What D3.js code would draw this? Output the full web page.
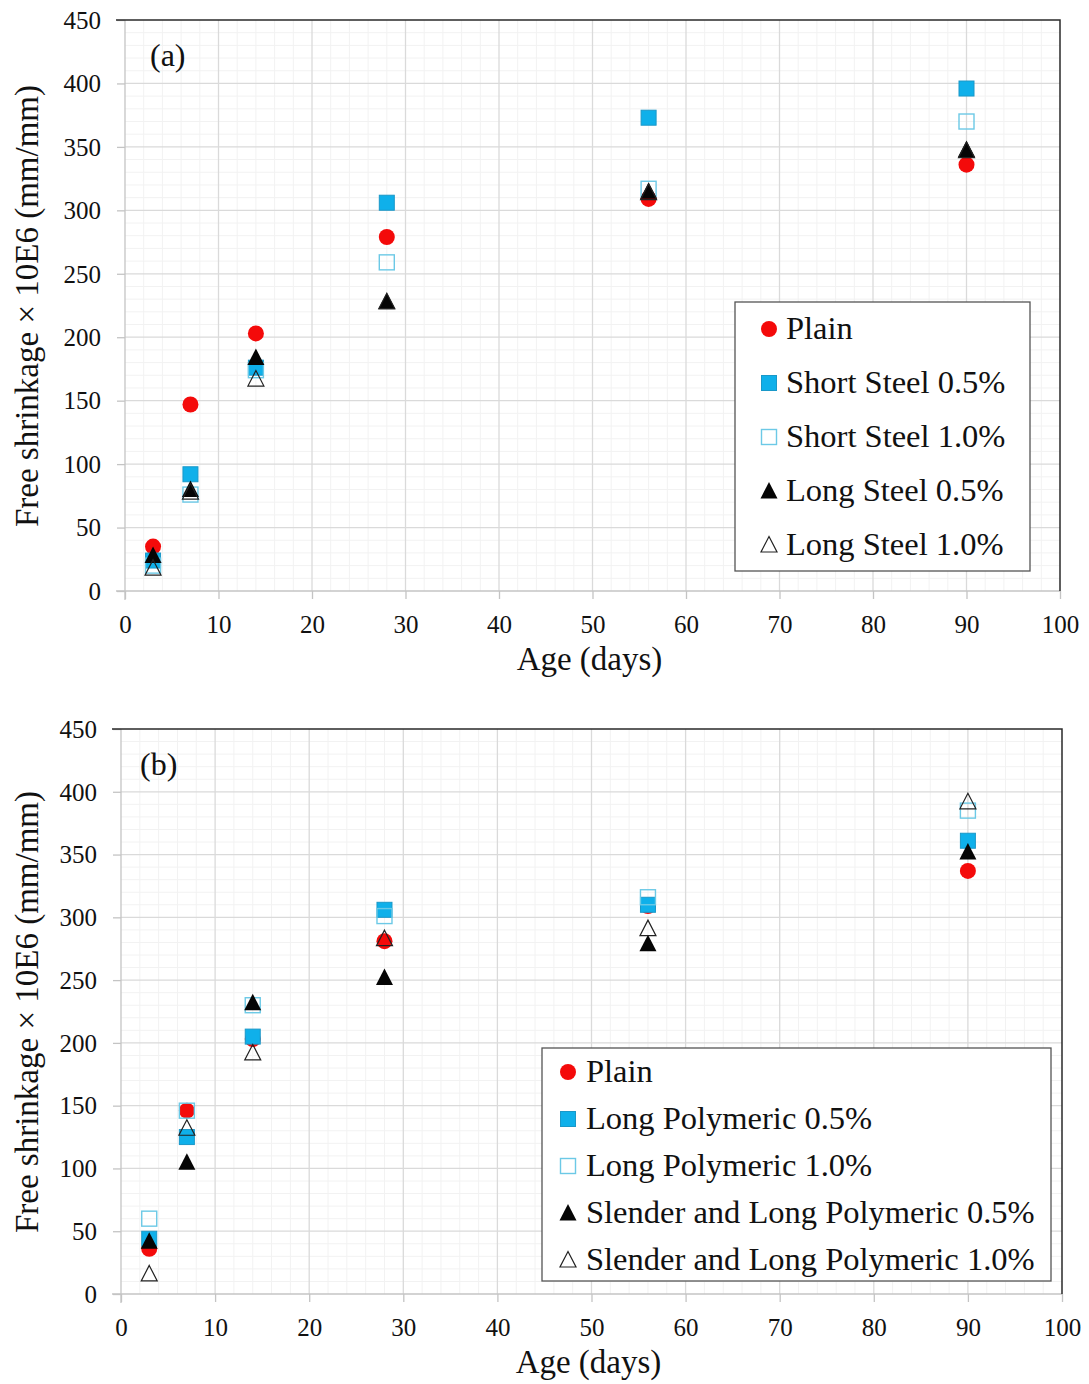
<!DOCTYPE html>
<html><head><meta charset="utf-8">
<script src="https://cdn.jsdelivr.net/npm/d3@7"></script>
<style>
body{margin:0;background:#fff;}
svg{display:block;}
text{font-family:"Liberation Serif","Times New Roman",serif;fill:#111;}
</style>
</head><body>
<svg id="chart" width="1089" height="1384"></svg>
<script>
// Shared axes
const ages = [3, 7, 14, 28, 56, 90];
const xTicks = [0, 10, 20, 30, 40, 50, 60, 70, 80, 90, 100];
const yTicks = [0, 50, 100, 150, 200, 250, 300, 350, 400, 450];

// Panel (a): steel fibres
const seriesA = ["Plain", "Short Steel 0.5%", "Short Steel 1.0%", "Long Steel 0.5%", "Long Steel 1.0%"];
const plainA = [35, 147, 203, 279, 309, 336];
const shortSteel05 = [24, 92, 176, 306, 373, 396];
const shortSteel10 = [20, 76, 174, 259, 317, 370];
const longSteel05 = [28, 80, 184, 228, 315, 348];
const longSteel10 = [18, 78, 167, 228, 314, 347];

// Panel (b): polymeric fibres
const seriesB = ["Plain", "Long Polymeric 0.5%", "Long Polymeric 1.0%", "Slender and Long Polymeric 0.5%", "Slender and Long Polymeric 1.0%"];
const plainB = [36, 146, 203, 281, 309, 337];
const longPoly05 = [44, 125, 205, 306, 310, 361];
const longPoly10 = [60, 146, 230, 301, 316, 385];
const slenderPoly05 = [42, 105, 232, 252, 279, 352];
const slenderPoly10 = [16, 132, 192, 283, 291, 392];

const markerKinds = ["circle", "squareFilled", "squareOpen", "triFilled", "triOpen"];
const RED = "#f40a0a", BLUE = "#0fb0ea", BLUE_EDGE = "#1a98c8", OPEN_BLUE = "#6cc9e6";

const svg = d3.select("#chart");

function drawMarker(g, kind, x, y) {
  if (kind === "circle") {
    g.append("circle").attr("cx", x).attr("cy", y).attr("r", 8).attr("fill", RED);
  } else if (kind === "squareFilled") {
    g.append("rect").attr("x", x - 7.5).attr("y", y - 7.5).attr("width", 15).attr("height", 15)
      .attr("fill", BLUE).attr("stroke", BLUE_EDGE).attr("stroke-width", 1);
  } else if (kind === "squareOpen") {
    g.append("rect").attr("x", x - 7.5).attr("y", y - 7.5).attr("width", 15).attr("height", 15)
      .attr("fill", "none").attr("stroke", OPEN_BLUE).attr("stroke-width", 1.4);
  } else if (kind === "triFilled") {
    g.append("path").attr("d", `M${x},${y - 9}L${x + 8.5},${y + 7.5}L${x - 8.5},${y + 7.5}Z`).attr("fill", "#050505");
  } else {
    g.append("path").attr("d", `M${x},${y - 8.5}L${x + 8},${y + 7}L${x - 8},${y + 7}Z`)
      .attr("fill", "none").attr("stroke", "#222").attr("stroke-width", 1.2);
  }
}

function drawPanel(cfg) {
  const x = d3.scaleLinear().domain([0, 100]).range([cfg.left, cfg.right]);
  const y = d3.scaleLinear().domain([0, 450]).range([cfg.bottom, cfg.top]);
  const g = svg.append("g");

  // minor grid
  g.append("g").selectAll("line").data(d3.range(2, 100, 2).filter(v => v % 10))
    .join("line").attr("x1", d => x(d)).attr("x2", d => x(d)).attr("y1", cfg.top).attr("y2", cfg.bottom)
    .attr("stroke", "#f2f2f2").attr("stroke-width", 1);
  g.append("g").selectAll("line").data(d3.range(10, 450, 10).filter(v => v % 50))
    .join("line").attr("y1", d => y(d)).attr("y2", d => y(d)).attr("x1", cfg.left).attr("x2", cfg.right)
    .attr("stroke", "#f2f2f2").attr("stroke-width", 1);

  // major grid
  g.append("g").selectAll("line").data(xTicks.slice(1, -1))
    .join("line").attr("x1", d => x(d)).attr("x2", d => x(d)).attr("y1", cfg.top).attr("y2", cfg.bottom)
    .attr("stroke", "#dadada").attr("stroke-width", 1.3);
  g.append("g").selectAll("line").data(yTicks.slice(1, -1))
    .join("line").attr("y1", d => y(d)).attr("y2", d => y(d)).attr("x1", cfg.left).attr("x2", cfg.right)
    .attr("stroke", "#dadada").attr("stroke-width", 1.3);

  // axes
  const xAxis = d3.axisBottom(x).tickValues(xTicks).tickSize(8).tickFormat(d3.format("d"));
  const xa = g.append("g").attr("transform", `translate(0,${cfg.bottom})`).call(xAxis);
  xa.select(".domain").attr("stroke", "#c4c4c4").attr("stroke-width", 1.3)
    .attr("d", `M${cfg.left - 9},0H${cfg.right}`);
  xa.selectAll(".tick line").attr("stroke", "#c4c4c4").attr("stroke-width", 1.3);
  xa.selectAll(".tick text").attr("font-size", 25).attr("fill", "#111").attr("dy", null).attr("y", 42)
    .attr("font-family", "Liberation Serif");

  const yAxis = d3.axisLeft(y).tickValues(yTicks).tickSize(8).tickFormat(d3.format("d"));
  const ya = g.append("g").attr("transform", `translate(${cfg.left},0)`).call(yAxis);
  ya.select(".domain").attr("stroke", "#c4c4c4").attr("stroke-width", 1.3)
    .attr("d", `M0,${cfg.bottom + 9}V${cfg.top}`);
  ya.selectAll(".tick line").attr("stroke", "#c4c4c4").attr("stroke-width", 1.3);
  ya.selectAll(".tick text").attr("font-size", 25).attr("fill", "#111").attr("x", -cfg.labelGap)
    .attr("dy", "0.33em").attr("font-family", "Liberation Serif");

  // frame top/right
  g.append("path").attr("d", `M${cfg.left - 9},${cfg.top}H${cfg.right}V${cfg.bottom}`)
    .attr("fill", "none").attr("stroke", "#2a2a2a").attr("stroke-width", 1.5);

  // titles
  g.append("text").attr("x", (cfg.left + cfg.right) / 2 - 3).attr("y", cfg.bottom + 79)
    .attr("text-anchor", "middle").attr("font-size", 33).text("Age (days)");
  g.append("text").attr("transform", `translate(38,${cfg.yTitleCenter}) rotate(-90)`)
    .attr("text-anchor", "middle").attr("font-size", 33).text("Free shrinkage × 10E6 (mm/mm)");
  g.append("text").attr("x", cfg.left + cfg.tagDx).attr("y", cfg.top + 46)
    .attr("font-size", 32).text(cfg.tag);

  // points, series drawn in legend order
  const pts = g.append("g");
  cfg.values.forEach((vals, si) => {
    vals.forEach((v, i) => drawMarker(pts, markerKinds[si], x(ages[i]), y(v)));
  });

  // legend
  const L = cfg.legend;
  const lg = g.append("g");
  lg.append("rect").attr("x", L.x0).attr("y", L.y0).attr("width", L.x1 - L.x0).attr("height", L.y1 - L.y0)
    .attr("fill", "#fff").attr("stroke", "#555").attr("stroke-width", 1.3);
  cfg.names.forEach((name, i) => {
    const cy = L.firstY + i * L.step;
    drawMarker(lg, markerKinds[i], L.markerX, cy);
    lg.append("text").attr("x", L.textX).attr("y", cy + 10).attr("font-size", L.font).text(name);
  });
}

drawPanel({
  left: 125, right: 1060, top: 20, bottom: 591, labelGap: 24, tag: "(a)", tagDx: 25, yTitleCenter: 306,
  names: seriesA, values: [plainA, shortSteel05, shortSteel10, longSteel05, longSteel10],
  legend: { x0: 735, x1: 1030, y0: 302, y1: 571, markerX: 769, textX: 786, firstY: 329, step: 54, font: 32.5 }
});
drawPanel({
  left: 121, right: 1062, top: 729, bottom: 1294, labelGap: 24, tag: "(b)", tagDx: 19, yTitleCenter: 1012,
  names: seriesB, values: [plainB, longPoly05, longPoly10, slenderPoly05, slenderPoly10],
  legend: { x0: 542, x1: 1051, y0: 1048, y1: 1281, markerX: 568, textX: 586, firstY: 1072, step: 47, font: 32.5 }
});
</script>
</body></html>
